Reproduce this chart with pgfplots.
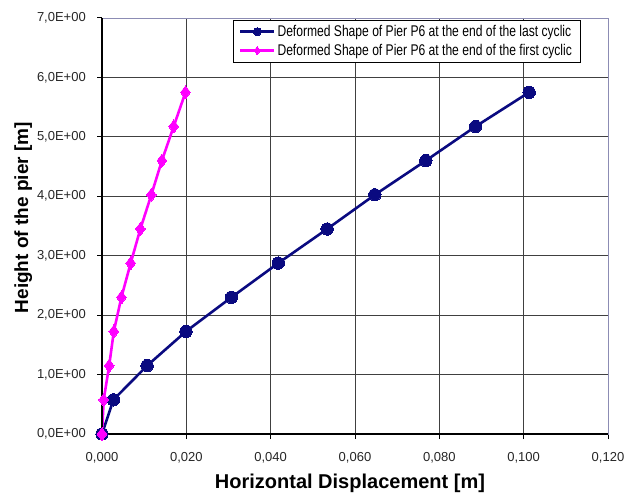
\documentclass[border=0pt]{standalone}
\usepackage{fontspec}
\setmainfont{Liberation Sans}
\newfontfamily\narrowfont[FakeStretch=0.78]{Liberation Sans}
\usepackage{pgfplots}
\pgfplotsset{compat=1.18}
\definecolor{navy}{HTML}{0A0A80}
\definecolor{pink}{HTML}{FF00FF}
\definecolor{frame}{HTML}{8C8CB4}

\begin{document}
\begin{tikzpicture}
\path[use as bounding box] (0,0) rectangle (624pt,493pt);
\begin{axis}[
  at={(102pt,59pt)}, anchor=south west,
  width=506pt, height=416pt, scale only axis,
  xmin=0, xmax=0.12, ymin=0, ymax=7,
  xtick={0,0.02,...,0.12}, ytick={0,1,...,7},
  xticklabels={0{,}000,0{,}020,0{,}040,0{,}060,0{,}080,0{,}100,0{,}120},
  yticklabels={0{,}0E+00,1{,}0E+00,2{,}0E+00,3{,}0E+00,4{,}0E+00,5{,}0E+00,6{,}0E+00,7{,}0E+00},
  tick label style={font=\fontsize{13}{15}\selectfont, text=black!85},
  xticklabel style={anchor=north, inner sep=0pt, yshift=-13pt},
  yticklabel style={anchor=east, inner sep=0pt, xshift=-11pt},
  tick align=outside, major tick length=5pt,
  tick style={black, line width=1pt},
  xtick pos=bottom, ytick pos=left,
  grid=major, grid style={black!75, line width=0.9pt},
  axis line style={frame, line width=0.8pt},
  xlabel={Horizontal Displacement [m]},
  ylabel={Height of the pier [m]},
  xlabel style={at={(axis description cs:0.49,-0.13)}, anchor=base, font=\fontsize{20}{24}\selectfont\bfseries},
  ylabel style={at={(axis description cs:-0.146,0.52)}, anchor=base, font=\fontsize{19}{23}\selectfont\bfseries},
  legend style={at={(axis description cs:0.945,0.995)}, anchor=north east,
    draw=black, line width=0.6pt, fill=white,
    font=\narrowfont\fontsize{15.5}{18}\selectfont,
    inner xsep=6pt, inner ysep=3pt, row sep=2pt,
    cells={anchor=west}},
  legend image code/.code={%
    \draw[mark repeat=2, mark phase=2, #1, mark size=4pt] plot coordinates {(0pt,0pt) (17pt,0pt) (34pt,0pt)};},
  clip=false]
\addplot[navy, line width=2.6pt, mark=*, mark size=6.2pt, mark options={fill=navy, draw=navy, line width=0pt}]
  coordinates {(0,0) (0.0027,0.575) (0.0107,1.15) (0.0199,1.725) (0.0307,2.3) (0.0418,2.875)
               (0.0534,3.45) (0.0647,4.025) (0.0768,4.6) (0.0886,5.175) (0.1013,5.75)};
\addlegendentry{Deformed Shape of Pier P6 at the end of the last cyclic}
\addplot[pink, line width=2.6pt, mark=diamond*, mark size=6.5pt, mark options={fill=pink, draw=pink, line width=0pt}]
  coordinates {(0,0) (0.0004,0.575) (0.0017,1.15) (0.0028,1.725) (0.0046,2.3) (0.0068,2.875)
               (0.0091,3.45) (0.0117,4.025) (0.0142,4.6) (0.0170,5.175) (0.0198,5.75)};
\addlegendentry{Deformed Shape of Pier P6 at the end of the first cyclic}
\draw[black, line width=2.6pt] (rel axis cs:0,1) -- (rel axis cs:0,0) -- (rel axis cs:1,0);
\end{axis}
\end{tikzpicture}
\end{document}
